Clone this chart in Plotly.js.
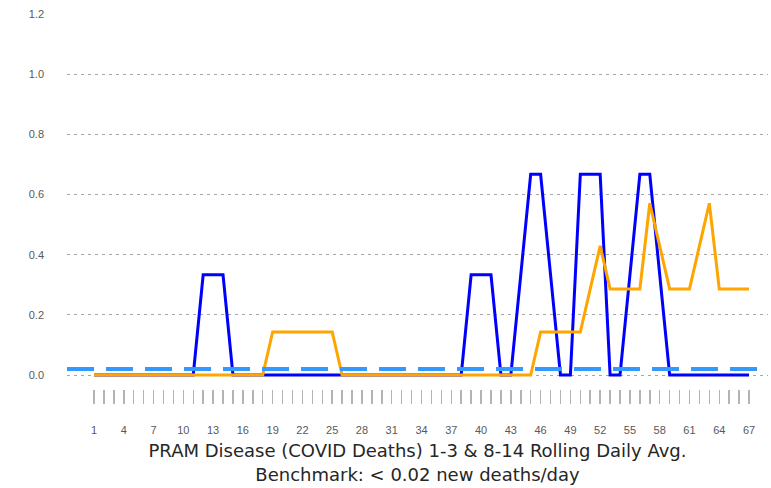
<!DOCTYPE html>
<html>
<head>
<meta charset="utf-8">
<script src="https://cdn.plot.ly/plotly-3.0.1.min.js"></script>
<style>
  html, body { margin: 0; padding: 0; background: #ffffff; }
  #chart { width: 771px; height: 488px; }
</style>
</head>
<body>
<div id="chart"></div>
<script>
// Day index (category axis)
const days = [];
for (let d = 1; d <= 67; d++) days.push(d);

// 1-3 day rolling daily average (blue)
const rolling1to3 = [
  0, 0, 0, 0, 0, 0, 0, 0, 0, 0, 0,
  0.333, 0.333, 0.333,
  0, 0, 0, 0, 0, 0, 0, 0, 0, 0, 0, 0, 0, 0, 0, 0, 0, 0, 0, 0, 0, 0, 0, 0,
  0.333, 0.333, 0.333,
  0, 0,
  0.333,
  0.667, 0.667,
  0.333,
  0, 0,
  0.667, 0.667, 0.667,
  0, 0,
  0.333,
  0.667, 0.667,
  0.333,
  0, 0, 0, 0, 0, 0, 0, 0, 0
];

// 8-14 day rolling daily average (orange)
const rolling8to14 = [
  0, 0, 0, 0, 0, 0, 0, 0, 0, 0, 0, 0, 0, 0, 0, 0, 0, 0,
  0.143, 0.143, 0.143, 0.143, 0.143, 0.143, 0.143,
  0, 0, 0, 0, 0, 0, 0, 0, 0, 0, 0, 0, 0, 0, 0, 0, 0, 0, 0, 0,
  0.143, 0.143, 0.143, 0.143, 0.143,
  0.286,
  0.429,
  0.286, 0.286, 0.286, 0.286,
  0.571,
  0.429,
  0.286, 0.286, 0.286,
  0.429,
  0.571,
  0.286, 0.286, 0.286, 0.286
];

// Benchmark (new deaths/day)
const benchmark = 0.02;

// X tick labels: every third day
const xTickLabels = days.map(d => ((d - 1) % 3 === 0 ? String(d) : ''));

const yTickVals = [0, 0.2, 0.4, 0.6, 0.8, 1.0, 1.2];

const traces = [
  {
    x: days, y: rolling1to3, type: 'scatter', mode: 'lines',
    line: { color: '#0000FF', width: 3 },
    name: '1-3 Rolling Daily Avg.', hoverinfo: 'x+y'
  },
  {
    x: days, y: rolling8to14, type: 'scatter', mode: 'lines',
    line: { color: '#FFA500', width: 3 },
    name: '8-14 Rolling Daily Avg.', hoverinfo: 'x+y'
  }
];

const layout = {
  width: 771, height: 488,
  margin: { l: 67, r: 3, t: 14, b: 99 },
  paper_bgcolor: '#ffffff', plot_bgcolor: '#ffffff',
  showlegend: false,
  font: { family: 'Liberation Sans, Arial, sans-serif', color: '#595959', size: 11 },
  xaxis: {
    anchor: 'free', position: 0,
    range: [-1.72, 68.91],
    tickmode: 'array', tickvals: days, ticktext: xTickLabels,
    ticks: 'outside', ticklen: 14, tickwidth: 1.5, tickcolor: '#b3b3b3',
    ticklabelstandoff: 17,
    showgrid: false, zeroline: false, showline: false,
    tickfont: { size: 11, color: '#595959' },
    automargin: false,
    title: {
      text: 'PRAM Disease (COVID Deaths) 1-3 &amp; 8-14 Rolling Daily Avg.<br>Benchmark: &lt; 0.02 new deaths/day',
      font: { family: 'DejaVu Sans, Verdana, sans-serif', size: 18, color: '#262626' },
      standoff: 9
    }
  },
  yaxis: {
    domain: [0.0213, 1],
    range: [-0.02, 1.2],
    tickmode: 'array', tickvals: yTickVals, tickformat: '.1f',
    showgrid: true, gridcolor: '#a6a6a6', gridwidth: 1, griddash: '3px,4px',
    zeroline: false, showline: false, ticks: '',
    ticklabelstandoff: 22,
    tickfont: { size: 11, color: '#595959' },
    automargin: false
  },
  shapes: [
    {
      type: 'line', xref: 'paper', x0: 0, x1: 1,
      yref: 'y', y0: benchmark, y1: benchmark,
      line: { color: '#3399FF', width: 4, dash: '27px,12px' },
      layer: 'above'
    }
  ]
};

Plotly.newPlot('chart', traces, layout, { displayModeBar: false, staticPlot: true });
</script>
</body>
</html>
